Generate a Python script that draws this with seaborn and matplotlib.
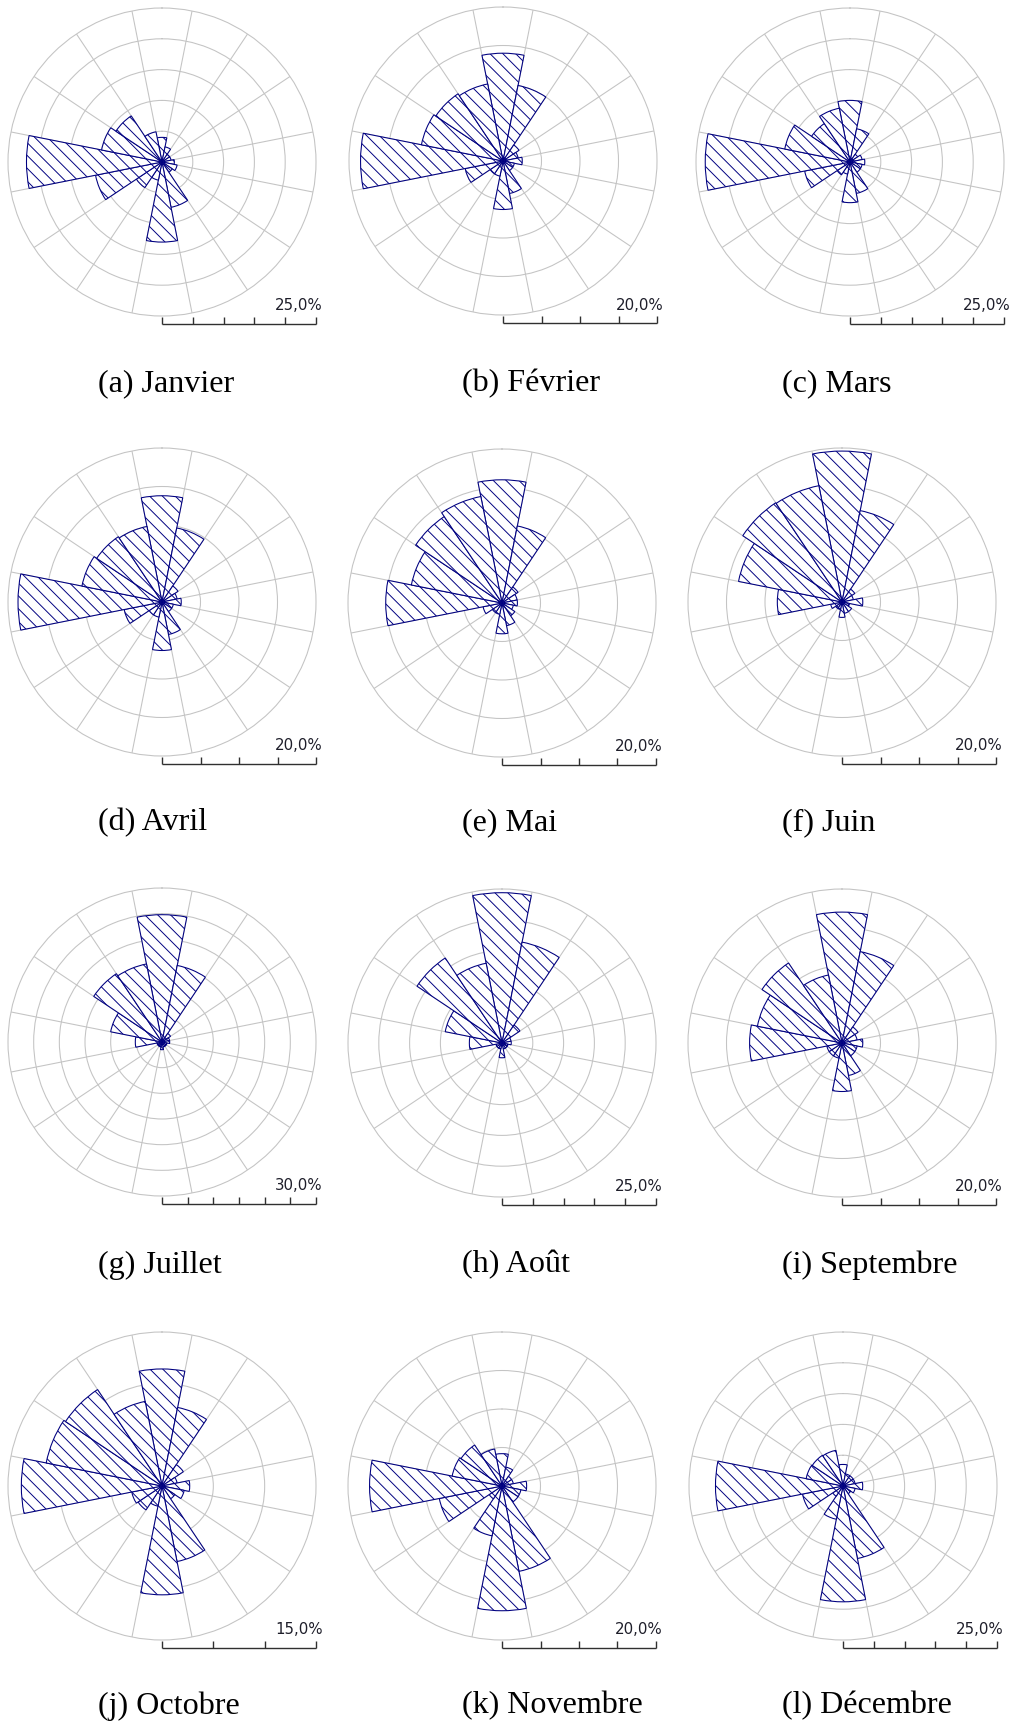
import numpy as np
import pandas as pd
import matplotlib
matplotlib.use("Agg")
import matplotlib.pyplot as plt
import seaborn as sns

# Fréquences des directions du vent (%), 16 secteurs dans le sens horaire depuis le Nord
DIRECTIONS = ["N", "NNE", "NE", "ENE", "E", "ESE", "SE", "SSE",
              "S", "SSO", "SO", "OSO", "O", "ONO", "NO", "NNO"]

MOIS = ["Janvier", "Février", "Mars", "Avril", "Mai", "Juin",
        "Juillet", "Août", "Septembre", "Octobre", "Novembre", "Décembre"]
LETTRES = ["a", "b", "c", "d", "e", "f", "g", "h", "i", "j", "k", "l"]
ECHELLES = [25, 20, 25, 20, 20, 20, 30, 25, 20, 15, 20, 25]

janvier = [4.0, 2.5, 1.5, 1.5, 2.0, 2.5, 2.0, 7.5, 13.0, 3.0, 5.0, 11.0, 22.0, 10.0, 9.0, 5.0]
fevrier = [14.0, 10.0, 2.5, 2.0, 2.5, 1.5, 1.5, 4.3, 6.3, 2.0, 2.0, 5.0, 18.5, 10.8, 10.5, 10.2]
mars = [10.0, 5.5, 1.5, 2.0, 2.4, 2.0, 2.0, 5.2, 6.6, 2.0, 2.5, 7.5, 23.5, 10.8, 7.5, 8.9]
avril = [13.8, 9.8, 2.5, 2.0, 2.5, 1.5, 1.5, 4.3, 6.3, 2.0, 2.0, 5.0, 18.7, 10.6, 10.2, 10.0]
mai = [16.0, 10.2, 2.5, 2.0, 2.0, 1.5, 2.0, 3.0, 4.0, 1.5, 1.5, 2.5, 15.1, 12.0, 13.5, 14.1]
juin = [19.6, 12.1, 2.0, 1.5, 2.7, 1.0, 1.5, 1.5, 2.0, 1.0, 1.0, 1.5, 8.4, 13.7, 15.5, 15.4]
juillet = [24.8, 15.2, 2.0, 1.5, 1.5, 1.0, 1.0, 1.0, 1.5, 1.0, 1.0, 1.0, 5.2, 10.2, 16.0, 15.5]
aout = [24.4, 16.7, 3.5, 1.5, 1.5, 1.0, 1.0, 1.0, 2.4, 1.0, 1.0, 1.0, 5.3, 9.4, 16.6, 13.2]
septembre = [17.0, 12.1, 2.5, 2.0, 2.7, 2.0, 2.0, 4.3, 6.3, 2.0, 2.0, 2.0, 12.0, 11.2, 12.5, 9.0]
octobre = [11.4, 7.8, 2.5, 1.5, 2.7, 2.2, 1.5, 7.5, 10.6, 2.0, 2.8, 3.0, 13.7, 11.5, 11.3, 8.4]
novembre = [4.2, 2.5, 1.5, 1.5, 3.2, 2.5, 2.5, 11.3, 16.2, 6.6, 2.0, 8.3, 17.2, 6.6, 6.4, 4.9]
decembre = [3.5, 2.0, 2.0, 2.0, 3.2, 2.0, 1.5, 12.0, 18.8, 5.5, 2.0, 6.7, 20.7, 6.1, 6.0, 5.9]

VALEURS = [janvier, fevrier, mars, avril, mai, juin,
           juillet, aout, septembre, octobre, novembre, decembre]

# Mise en page (pixels)
W, H, DPI = 1015, 1727, 77
RAYON = 154
CENTRES = [(162, 163), (503, 162), (850, 163),
           (162, 603), (502, 604), (842, 603),
           (162, 1043), (502, 1044), (842, 1044),
           (162, 1487), (502, 1487), (843, 1487)]
LEGENDE_X = [98, 462, 782]
LEGENDE_Y = [384, 823, 1265, 1706]

BLEU = "#000080"
GRILLE = "#c4c4c4"

sns.set_theme(style="white")
plt.rcParams["font.family"] = ["DejaVu Sans"]
plt.rcParams["hatch.linewidth"] = 0.9
plt.rcParams["hatch.color"] = BLEU

angles = np.deg2rad(np.arange(16) * 22.5)
lignes = []
for mois, vals, ech in zip(MOIS, VALEURS, ECHELLES):
    for d, a, v in zip(DIRECTIONS, angles, vals):
        lignes.append({"mois": mois, "direction": d, "theta": a,
                       "freq": v, "echelle": ech})
df = pd.DataFrame(lignes)


def rose(data, **kws):
    ax = plt.gca()
    ech = data["echelle"].iloc[0]
    ax.set_theta_zero_location("N")
    ax.set_theta_direction(-1)
    ax.set_axisbelow(True)
    ax.bar(data["theta"], data["freq"], width=2 * np.pi / 16, bottom=0,
           align="center", facecolor="white", edgecolor=BLEU,
           hatch="\\\\", linewidth=1.0, zorder=3)
    ax.set_ylim(0, ech)
    rayons = np.arange(5, ech, 5)
    ax.set_yticks(rayons)
    ax.set_yticklabels([""] * len(rayons))
    rayons_sect = np.deg2rad(np.arange(11.25, 360, 22.5))
    ax.set_xticks(rayons_sect)
    ax.set_xticklabels([""] * len(rayons_sect))
    ax.tick_params(length=0, pad=0)
    ax.grid(True, color=GRILLE, linewidth=1.0)
    ax.spines["polar"].set_color(GRILLE)
    ax.spines["polar"].set_linewidth(1.0)
    ax.set_facecolor("white")


g = sns.FacetGrid(df, col="mois", col_order=MOIS, col_wrap=3,
                  sharex=False, sharey=False, despine=False, height=3,
                  subplot_kws={"projection": "polar"})
g.map_dataframe(rose)
g.set_titles("")
g.set_axis_labels("", "")

fig = g.figure
fig.set_size_inches(W / DPI, H / DPI)
fig.patch.set_facecolor("white")

for i, (ax, mois) in enumerate(zip(g.axes.flat, MOIS)):
    cx, cy = CENTRES[i]
    ech = ECHELLES[i]
    ax.set_position([(cx - RAYON) / W, 1 - (cy + RAYON) / H,
                     2 * RAYON / W, 2 * RAYON / H])
    ax.set_xlabel("")
    ax.set_ylabel("")
    ax.set_title("")

    # Barre d'échelle : du centre jusqu'au cercle extérieur, graduée tous les 5 %
    yb = cy + 162
    axs = fig.add_axes([cx / W, 1 - yb / H, RAYON / W, 7 / H])
    axs.set_xlim(0, ech)
    axs.set_ylim(0, 1)
    axs.plot([0, ech], [0, 0], color="#303030", lw=1.3,
             clip_on=False, solid_capstyle="butt")
    axs.vlines(np.arange(0, ech + 0.01, 5), 0, 1, color="#303030",
               lw=1.3, clip_on=False)
    axs.axis("off")
    etiquette = f"{ech:.1f}".replace(".", ",") + "%"
    fig.text((cx + RAYON + 7) / W, 1 - (yb - 19) / H, etiquette,
             ha="right", va="center", fontsize=14, color="#1e1e2a")

    # Légende sous chaque rose
    fig.text(LEGENDE_X[i % 3] / W, 1 - LEGENDE_Y[i // 3] / H,
             f"({LETTRES[i]}) {mois}", ha="left", va="center",
             fontsize=30, family=["Liberation Serif"], color="black")

fig.savefig("out.png", dpi=DPI, facecolor="white")
